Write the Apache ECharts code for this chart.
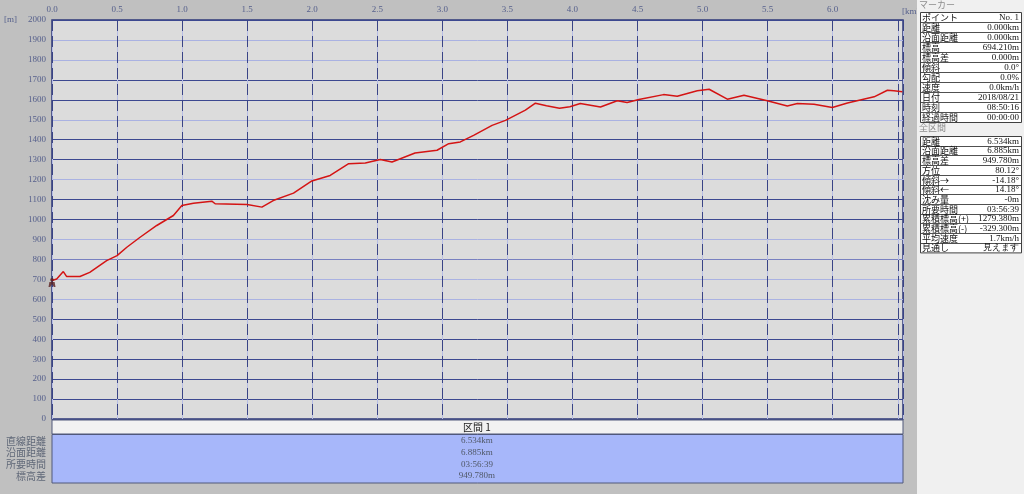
<!DOCTYPE html>
<html><head><meta charset="utf-8">
<script src="https://cdn.jsdelivr.net/npm/echarts@6/dist/echarts.min.js"></script>
<style>html,body{margin:0;padding:0;background:#c0c0c0;}#c{width:1024px;height:494px;}</style>
</head><body><div id="c"></div>
<script>
// distance along route (km)
const distKm = [0, 0.036, 0.087, 0.113, 0.215, 0.29, 0.42, 0.50, 0.575, 0.677, 0.805, 0.933, 0.998, 1.087, 1.228, 1.254, 1.50, 1.613, 1.70, 1.856, 1.997, 2.138, 2.28, 2.408, 2.523, 2.613, 2.79, 2.959, 3.049, 3.138, 3.24, 3.382, 3.485, 3.638, 3.715, 3.80, 3.90, 3.98, 4.06, 4.215, 4.344, 4.42, 4.51, 4.70, 4.805, 4.959, 5.05, 5.19, 5.318, 5.497, 5.651, 5.728, 5.856, 5.997, 6.113, 6.318, 6.42, 6.47, 6.535];
// elevation (m)
const elevM = [694, 702, 739, 714, 714, 735, 794, 819, 861, 911, 970, 1020, 1070, 1082, 1092, 1079, 1075, 1062, 1095, 1132, 1193, 1221, 1280, 1283, 1301, 1288, 1333, 1347, 1380, 1389, 1422, 1472, 1497, 1548, 1583, 1570, 1558, 1565, 1581, 1564, 1595, 1586, 1601, 1626, 1618, 1645, 1653, 1603, 1623, 1595, 1569, 1581, 1578, 1561, 1584, 1615, 1648, 1645, 1640];
// marker panel
const markerLabels = ['ポイント', '距離', '沿面距離', '標高', '標高差', '傾斜', '勾配', '速度', '日付', '時刻', '経過時間'];
const markerValues = ['No. 1', '0.000km', '0.000km', '694.210m', '0.000m', '0.0°', '0.0%', '0.0km/h', '2018/08/21', '08:50:16', '00:00:00'];
// whole-section panel
const sectionLabels = ['距離', '沿面距離', '標高差', '方位', '傾斜→', '傾斜←', '沈み量', '所要時間', '累積標高(+)', '累積標高(-)', '平均速度', '見通し'];
const sectionValues = ['6.534km', '6.885km', '949.780m', '80.12°', '-14.18°', '14.18°', '-0m', '03:56:39', '1279.380m', '-329.300m', '1.7km/h', '見えます'];
// bottom band
const bandTitle = '区間 1';
const bandLabels = ['直線距離', '沿面距離', '所要時間', '標高差'];
const bandValues = ['6.534km', '6.885km', '03:56:39', '949.780m'];

const chart = echarts.init(document.getElementById('c'));
const JP = '"Noto Sans CJK JP", sans-serif';
const SERIF = '"Liberation Serif", "DejaVu Serif", serif';
const D = '#3c4890', L = '#aab2e2', M = '#7880c0';
const yLineColors = [D, D, D, D, D, D, L, L, M, L, D, D, L, D, D, L, D, D, L, L, D];

const g = [];
// bottom band
g.push({type:'rect', shape:{x:52, y:420, width:851, height:14}, style:{fill:'#f2f2f2', stroke:'#50587a', lineWidth:1}, z:1});
g.push({type:'rect', shape:{x:52, y:434.5, width:851, height:48.5}, style:{fill:'#a7b7fa', stroke:'#50587a', lineWidth:1}, z:1});
g.push({type:'text', style:{text:bandTitle, x:477, y:427.5, font:'10px ' + JP, fill:'#202020', textAlign:'center', textVerticalAlign:'middle'}, z:2});
bandLabels.forEach((t, i) => {
  g.push({type:'text', style:{text:t, x:46, y:441 + i * 11.7, font:'10px ' + JP, fill:'#606878', textAlign:'right', textVerticalAlign:'middle'}, z:2});
  g.push({type:'text', style:{text:bandValues[i], x:477, y:441 + i * 11.7, font:'9px ' + SERIF, fill:'#505868', textAlign:'center', textVerticalAlign:'middle'}, z:2});
});
// right panel
g.push({type:'rect', shape:{x:917, y:0, width:107, height:494}, style:{fill:'#f0f0f0'}, z:1});
function table(title, titleY, top, h, labels, values) {
  g.push({type:'text', style:{text:title, x:919, y:titleY, font:'9px ' + JP, fill:'#8c8c8c', textAlign:'left', textVerticalAlign:'middle'}, z:2});
  g.push({type:'rect', shape:{x:920.5, y:top + 0.5, width:101, height:labels.length * h}, style:{fill:'#ffffff', stroke:'#404040', lineWidth:1}, z:2});
  labels.forEach((t, i) => {
    const cy = top + i * h + h / 2 + 0.5;
    if (i > 0) g.push({type:'line', shape:{x1:921, y1:Math.round(top + i * h) + 0.5, x2:1021, y2:Math.round(top + i * h) + 0.5}, style:{stroke:'#505050', lineWidth:1}, z:3});
    g.push({type:'text', style:{text:t, x:922, y:cy, font:'9px ' + JP, fill:'#101010', textAlign:'left', textVerticalAlign:'middle'}, z:3});
    g.push({type:'text', style:{text:values[i], x:1019, y:cy, font:'9px ' + SERIF, fill:'#101010', textAlign:'right', textVerticalAlign:'middle'}, z:3});
  });
}
table('マーカー', 5, 12, 10, markerLabels, markerValues);
table('全区間', 128, 136, 9.7, sectionLabels, sectionValues);
// unit labels
g.push({type:'text', style:{text:'[m]', x:4, y:20, font:'9px ' + SERIF, fill:'#56608c', textAlign:'left', textVerticalAlign:'middle'}, z:2});
g.push({type:'text', style:{text:'[km]', x:902, y:12, font:'9px ' + SERIF, fill:'#56608c', textAlign:'left', textVerticalAlign:'middle'}, z:0});

const xLabel = v => (Math.abs(v * 2 - Math.round(v * 2)) < 1e-6 && v < 6.25) ? v.toFixed(1) : '';

chart.setOption({
  backgroundColor: '#c0c0c0',
  animation: false,
  grid: {left:52, top:20, right:121, bottom:75, show:true, backgroundColor:'#dcdcdc', borderColor:'#2e3878', borderWidth:1.5},
  xAxis: [
    {type:'value', position:'top', min:0, max:6.54, interval:0.5, z:0,
     axisLine:{show:false}, axisTick:{show:false}, axisLabel:{show:false},
     splitLine:{show:true, lineStyle:{color:'#b8bee6', width:1}}},
    {type:'value', position:'top', min:0, max:6.54, interval:0.5, z:1,
     axisLine:{show:false}, axisTick:{show:false},
     axisLabel:{formatter:xLabel, color:'#56608c', fontFamily:SERIF, fontSize:9, margin:6, showMaxLabel:false},
     splitLine:{show:true, lineStyle:{color:'#3a4486', width:1, type:[11, 5]}}}
  ],
  yAxis: {type:'value', min:0, max:2000, interval:100,
    axisLine:{show:false}, axisTick:{show:false},
    axisLabel:{formatter: v => String(v), color:'#56608c', fontFamily:SERIF, fontSize:9, margin:6},
    splitLine:{show:true, lineStyle:{color:yLineColors, width:1}}},
  series: [
    {type:'line', xAxisIndex:1, data: distKm.map((d, i) => [d, elevM[i]]), symbol:'none', z:5,
     lineStyle:{color:'#d41414', width:1.5}},
    {type:'scatter', xAxisIndex:1, data:[[distKm[0], elevM[0]]], z:6,
     symbol:'path://M4,0 C5.2,0 6,0.9 6,2 C6,3.1 5.2,4 4,4 C2.8,4 2,3.1 2,2 C2,0.9 2.8,0 4,0 Z M1,4.5 L7,4.5 L8,10 L6,10 L4,6.5 L2,10 L0,10 Z',
     symbolSize:[7, 9], symbolOffset:[0, 2], itemStyle:{color:'#5a2020'}}
  ],
  graphic: g
});
</script>
</body></html>
